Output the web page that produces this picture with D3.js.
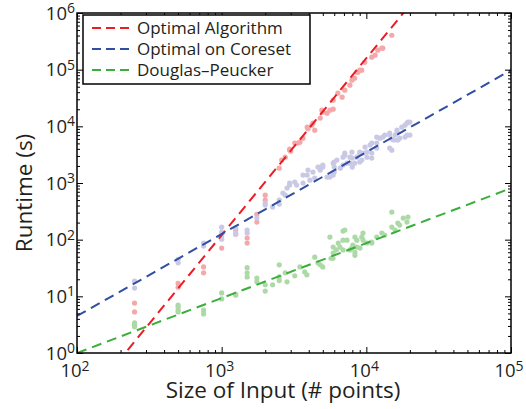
<!DOCTYPE html>
<html lang="en">
<head>
<meta charset="UTF-8">
<title>Runtime vs Size of Input</title>
<script src="https://cdn.jsdelivr.net/npm/d3@7"></script>
<style>
  body { margin: 0; background: #fff; }
  text { font-family: "Open Sans", sans-serif; fill: #231f20; }
</style>
</head>
<body>
<svg width="526" height="409"></svg>
<script>
// axis decades (exponents of 10)
const xExps = [2, 3, 4, 5];
const yExps = [0, 1, 2, 3, 4, 5, 6];

const seriesNames = ["Optimal Algorithm", "Optimal on Coreset", "Douglas\u2013Peucker"];
const lineColors = ["#ed1c24", "#2e4fa3", "#3aae3a"];
const pointColors = ["#f5a8aa", "#c9c9e6", "#acd9a6"];

// [input size, runtime in s]
const optimalPoints = [
  [250, 7.6], [250, 5.3], [500, 17], [500, 14.5], [750, 33], [750, 26],
  [1000, 71], [1250, 148], [1250, 125], [1500, 107], [1500, 87],
  [1750, 280], [1750, 204], [2000, 610], [2000, 500], [2500, 1830],
  [2600, 2540], [2750, 2860], [2950, 3960], [2950, 3800], [3000, 3650],
  [3200, 5060], [3370, 5060], [3475, 5260], [3650, 6190], [3900, 9680],
  [3950, 9100], [4200, 10500], [4275, 11400], [4400, 8570], [4800, 14000],
  [4930, 19300], [5000, 17800], [5350, 17100], [5600, 19300], [5900, 20100],
  [5900, 29000], [6350, 38500], [6800, 32700], [7100, 43500], [7700, 53300],
  [7950, 65300], [8300, 70800], [8600, 90000], [8750, 90000], [9000, 98000],
  [9300, 98000], [9750, 135000], [10900, 166000], [11500, 180000],
  [12000, 221000], [12800, 239000], [13000, 239000], [15000, 405000]
];
const coresetPoints = [
  [250, 18.6], [250, 14], [500, 45], [500, 39], [750, 87], [750, 77],
  [1000, 166], [1000, 136], [1000, 120], [1000, 102], [1250, 160], [1250, 131],
  [1250, 126], [1500, 148], [1500, 131], [1750, 240], [2000, 442], [2000, 407],
  [2250, 376], [2500, 425], [2500, 500], [2650, 664], [2750, 612], [2830, 813],
  [2950, 918], [2950, 1000], [3200, 1040], [3300, 918], [3650, 1380], [3650, 1000],
  [3900, 1380], [3950, 1690], [4075, 1120], [4275, 1560], [4400, 1220], [4630, 1910],
  [4800, 1690], [4800, 1910], [5000, 2070], [5000, 1910], [5350, 1270], [5600, 1270],
  [5900, 2240], [5900, 1380], [6000, 1560], [6000, 2340], [6000, 1910], [6260, 2540],
  [6600, 1830], [6900, 2860], [6900, 2070], [7100, 3100], [7100, 3370], [7350, 2240],
  [7700, 2860], [7700, 2240], [7950, 3510], [8000, 1910], [8000, 2750], [8300, 2240],
  [8600, 2860], [9000, 3510], [9000, 3370], [9000, 2340], [9300, 2540], [9500, 3370],
  [10100, 3510], [10100, 2860], [9800, 4300], [10600, 4660], [10900, 5060],
  [10900, 3370], [10900, 2750], [11800, 6450], [11800, 5060], [11800, 4130],
  [12400, 6190], [13000, 6450], [13400, 7000], [14500, 7590], [14500, 7000],
  [14500, 4130], [15000, 3800], [15000, 5950], [15500, 5710], [15800, 7000],
  [16300, 8570], [16300, 7900], [16500, 5710], [17000, 6190], [17600, 9680],
  [18500, 10500], [18500, 6450], [19100, 11400], [19100, 7000], [19400, 11900],
  [20000, 11900], [20000, 7000]
];
const dpPoints = [
  [250, 3.4], [250, 3.1], [250, 2.9], [500, 7], [500, 6.5], [500, 5.7], [500, 5.3],
  [750, 5.7], [750, 4.9], [1000, 11.5], [1000, 9], [1250, 11], [1250, 10.5],
  [1500, 32], [1500, 26], [1500, 22], [1750, 21], [1750, 18], [2000, 16], [2000, 12.4],
  [2250, 16], [2500, 22], [2500, 19], [2500, 36], [2750, 26], [2830, 18], [3200, 23],
  [3475, 33], [3750, 27], [3880, 24], [4400, 49], [4630, 39], [4800, 36], [5000, 33],
  [5600, 111], [5700, 47], [5875, 47], [5900, 58], [5900, 74], [6200, 66], [6400, 87],
  [6570, 74], [6900, 66], [6900, 142], [6900, 98], [7100, 148], [7350, 98], [7700, 66],
  [7950, 71], [8070, 80], [8340, 60], [8340, 53], [8340, 111], [8600, 98], [8600, 74],
  [9040, 71], [9300, 111], [9480, 131], [9500, 98], [10100, 87], [10900, 87],
  [10900, 91], [11800, 111], [12800, 131], [13400, 121], [15000, 307], [15000, 167],
  [15800, 148], [16500, 196], [17000, 181], [18000, 240], [19100, 204], [19400, 250]
];
// fitted power-law lines, given by two end points [size, runtime]
const optimalFit = [[100, 0.091], [100000, 2.1e8]];
const coresetFit = [[100, 4.5], [100000, 98000]];
const dpFit = [[100, 1.0], [100000, 810]];

const svg = d3.select("svg");
const margin = {top: 13, right: 15, bottom: 56, left: 77};
const width = 526 - margin.left - margin.right;
const height = 409 - margin.top - margin.bottom;

const x = d3.scaleLog().domain([1e2, 1e5]).range([margin.left, margin.left + width]);
const y = d3.scaleLog().domain([1, 1e6]).range([margin.top + height, margin.top]);

svg.append("clipPath").attr("id", "plotclip")
  .append("rect")
  .attr("x", margin.left).attr("y", margin.top)
  .attr("width", width).attr("height", height);

const plot = svg.append("g").attr("clip-path", "url(#plotclip)");

// scatter points
const pointSets = [optimalPoints, coresetPoints, dpPoints];
pointSets.forEach((pts, i) => {
  plot.append("g")
    .selectAll("circle")
    .data(pts)
    .join("circle")
    .attr("cx", d => x(d[0]))
    .attr("cy", d => y(d[1]))
    .attr("r", 2.6)
    .attr("fill", pointColors[i]);
});

// dashed fit lines
const line = d3.line().x(d => x(d[0])).y(d => y(d[1]));
[optimalFit, coresetFit, dpFit].forEach((f, i) => {
  plot.append("path")
    .attr("d", line(f))
    .attr("fill", "none")
    .attr("stroke", lineColors[i])
    .attr("stroke-width", 2)
    .attr("stroke-dasharray", "10,6");
});

// ticks (inward on all four sides)
function minorTicks(exps) {
  const out = [];
  for (let k = exps[0]; k < exps[exps.length - 1]; k++)
    for (let m = 2; m <= 9; m++) out.push(m * Math.pow(10, k));
  return out;
}
const xMajor = xExps.map(e => Math.pow(10, e));
const yMajor = yExps.map(e => Math.pow(10, e));

function addAxis(axisFn, scale, values, size, transform) {
  const g = svg.append("g")
    .attr("transform", transform)
    .call(axisFn(scale).tickValues(values).tickSize(-size).tickFormat(""));
  g.select(".domain").remove();
  g.selectAll("line").attr("stroke", "#000").attr("stroke-width", 1);
}
addAxis(d3.axisBottom, x, xMajor, 6, `translate(0,${margin.top + height})`);
addAxis(d3.axisBottom, x, minorTicks(xExps), 3, `translate(0,${margin.top + height})`);
addAxis(d3.axisTop, x, xMajor, 6, `translate(0,${margin.top})`);
addAxis(d3.axisTop, x, minorTicks(xExps), 3, `translate(0,${margin.top})`);
addAxis(d3.axisLeft, y, yMajor, 6, `translate(${margin.left},0)`);
addAxis(d3.axisLeft, y, minorTicks(yExps), 3, `translate(${margin.left},0)`);
addAxis(d3.axisRight, y, yMajor, 6, `translate(${margin.left + width},0)`);
addAxis(d3.axisRight, y, minorTicks(yExps), 3, `translate(${margin.left + width},0)`);

// frame
svg.append("rect")
  .attr("x", margin.left).attr("y", margin.top)
  .attr("width", width).attr("height", height)
  .attr("fill", "none").attr("stroke", "#000").attr("stroke-width", 1.5);

// tick labels 10^k
function powLabel(sel, e) {
  sel.append("tspan").text("10");
  sel.append("tspan").attr("dy", -6.5).attr("font-size", 14).text(e);
}
xExps.forEach(e => {
  svg.append("text")
    .attr("x", x(Math.pow(10, e)) - 2)
    .attr("y", 377)
    .attr("text-anchor", "middle")
    .attr("font-size", 18.5)
    .call(powLabel, e);
});
yExps.forEach(e => {
  svg.append("text")
    .attr("x", margin.left - 2)
    .attr("y", y(Math.pow(10, e)) + 6.5)
    .attr("text-anchor", "end")
    .attr("font-size", 18.5)
    .call(powLabel, e);
});

// axis titles
svg.append("text")
  .attr("x", 283).attr("y", 398)
  .attr("text-anchor", "middle")
  .attr("font-size", 22.5)
  .text("Size of Input (# points)");
svg.append("text")
  .attr("transform", "translate(32,193) rotate(-90)")
  .attr("text-anchor", "middle")
  .attr("font-size", 22.5)
  .text("Runtime (s)");

// legend
const legend = svg.append("g").attr("transform", "translate(83,15)");
legend.append("rect")
  .attr("width", 227).attr("height", 69)
  .attr("fill", "#fff").attr("stroke", "#000").attr("stroke-width", 1.5);
seriesNames.forEach((name, i) => {
  const row = legend.append("g").attr("transform", `translate(0,${13 + i * 21})`);
  row.append("line")
    .attr("x1", 9).attr("x2", 48)
    .attr("stroke", lineColors[i]).attr("stroke-width", 2)
    .attr("stroke-dasharray", "9,5");
  row.append("text")
    .attr("x", 54).attr("y", 6)
    .attr("font-size", 17)
    .text(name);
});
</script>
</body>
</html>
